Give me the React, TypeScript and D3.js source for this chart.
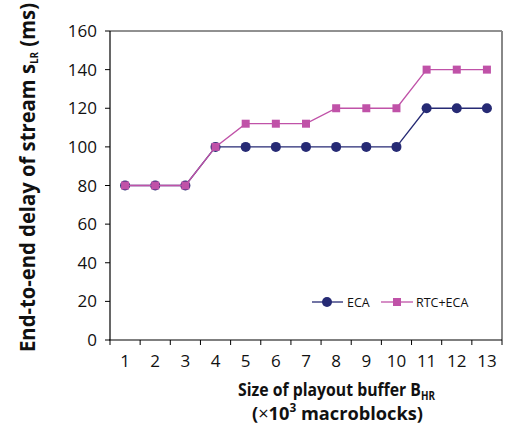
import React from 'react';
import * as d3 from 'd3';

const bufferSizes = ['1', '2', '3', '4', '5', '6', '7', '8', '9', '10', '11', '12', '13'];
const ecaDelay = [80, 80, 80, 100, 100, 100, 100, 100, 100, 100, 120, 120, 120];
const rtcEcaDelay = [80, 80, 80, 100, 112, 112, 112, 120, 120, 120, 140, 140, 140];
const yTicks = [0, 20, 40, 60, 80, 100, 120, 140, 160];

const NAVY = '#262a74';
const PINK = '#c052a8';
const FONT = '"Open Sans", "Noto Sans", sans-serif';

const W = 509;
const H = 446;
const left = 110, right = 502, top = 31, bottom = 340;

export default function App() {
  const x = d3.scaleBand<string>().domain(bufferSizes).range([left, right]).padding(0);
  const y = d3.scaleLinear().domain([0, 160]).range([bottom, top]);
  const cx = (c: string) => (x(c) as number) + x.bandwidth() / 2;

  const line = d3.line<number>()
    .x((_, i) => cx(bufferSizes[i]))
    .y((d) => y(d));

  const bounds = bufferSizes.map((c) => x(c) as number).concat([right]);

  return (
    <svg width={W} height={H} style={{ position: 'absolute', left: 0, top: 0, background: '#fff' }}>
      {/* frame */}
      <line x1={left} x2={right} y1={top} y2={top} stroke="#222" strokeWidth={1} />
      <line x1={right} x2={right} y1={top} y2={bottom} stroke="#888" strokeWidth={2} />
      <line x1={left} x2={left} y1={top} y2={bottom} stroke="#000" strokeWidth={1.2} />
      <line x1={left - 1} x2={right} y1={bottom} y2={bottom} stroke="#000" strokeWidth={1.2} />

      {/* y ticks */}
      {yTicks.map((t) => (
        <g key={t}>
          <line x1={left - 5} x2={left} y1={y(t)} y2={y(t)} stroke="#000" />
          <text x={97} y={y(t) + 6} textAnchor="end" fontFamily={FONT} fontSize={17} fill="#111">{t}</text>
        </g>
      ))}

      {/* x ticks */}
      {bounds.map((b, i) => (
        <line key={i} x1={b} x2={b} y1={bottom} y2={bottom + 5} stroke="#000" />
      ))}
      {bufferSizes.map((c) => (
        <text key={c} x={cx(c)} y={367} textAnchor="middle" fontFamily={FONT} fontSize={17} fill="#111">{c}</text>
      ))}

      {/* series */}
      <path d={line(ecaDelay) || ''} fill="none" stroke={NAVY} strokeWidth={1.3} />
      {ecaDelay.map((v, i) => (
        <circle key={i} cx={cx(bufferSizes[i])} cy={y(v)} r={5} fill={NAVY} />
      ))}
      <path d={line(rtcEcaDelay) || ''} fill="none" stroke={PINK} strokeWidth={1.3} />
      {rtcEcaDelay.map((v, i) => (
        <rect key={i} x={cx(bufferSizes[i]) - 4} y={y(v) - 4} width={8} height={8} fill={PINK} />
      ))}

      {/* legend */}
      <line x1={312} x2={343} y1={302} y2={302} stroke={NAVY} strokeWidth={1.3} />
      <circle cx={327} cy={302} r={5} fill={NAVY} />
      <text x={347} y={307} fontFamily={FONT} fontSize={12.5} fill="#111">ECA</text>
      <line x1={381} x2={413} y1={302} y2={302} stroke={PINK} strokeWidth={1.3} />
      <rect x={393} y={298} width={8} height={8} fill={PINK} />
      <text x={416} y={307} fontFamily={FONT} fontSize={12.5} fill="#111">RTC+ECA</text>

      {/* x title */}
      <text x={238} y={396} textLength={197} lengthAdjust="spacingAndGlyphs" fontFamily={FONT} fontWeight="bold" fontSize={18.5} fill="#111">
        Size of playout buffer B<tspan fontSize={11.5} dy={4}>HR</tspan>
      </text>
      <text x={252} y={420} textLength={171} lengthAdjust="spacingAndGlyphs" fontFamily={FONT} fontWeight="bold" fontSize={18.5} fill="#111">
        (<tspan fontWeight="normal">×</tspan>10<tspan fontSize={12} dy={-8}>3</tspan><tspan dy={8}> macroblocks)</tspan>
      </text>

      {/* y title */}
      <text transform="translate(35,352) rotate(-90)" textLength={349} lengthAdjust="spacingAndGlyphs" fontFamily={FONT} fontWeight="bold" fontSize={20.5} fill="#111">
        End-to-end delay of stream s<tspan fontSize={10} dy={3}>LR</tspan><tspan dy={-3}> (ms)</tspan>
      </text>
    </svg>
  );
}
